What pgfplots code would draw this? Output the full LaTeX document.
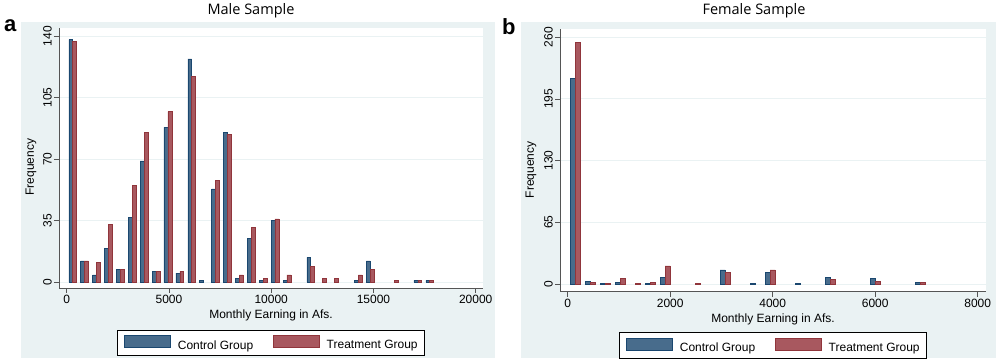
\documentclass[border=0pt]{standalone}
\usepackage{fontspec}
\setmainfont{Liberation Sans}
\newfontfamily\titlefont{Open Sans}
\usepackage{pgfplots}
\usepackage{pgfplotstable}
\pgfplotsset{compat=1.18}
\definecolor{sbg}{RGB}{234,242,243}
\definecolor{navyL}{RGB}{26,71,111}
\definecolor{navyF}{RGB}{72,108,140}
\definecolor{marL}{RGB}{144,53,59}
\definecolor{marF}{RGB}{168,88,95}
\definecolor{gridc}{RGB}{234,242,243}
\definecolor{axc}{RGB}{85,85,85}

\pgfplotstableread{
x y
291 138
873 12
1455 4
2037 19
2619 7
3201 37
3783 69
4365 6
4947 88
5529 5
6111 127
6693 1
7275 53
7857 85
8439 2
9021 25
9603 1
10185 35
10767 1
11931 14
14259 1
14841 12
17169 1
17751 1
}\maleC
\pgfplotstableread{
x y
291 137
873 12
1455 11
2037 33
2619 7
3201 55
3783 85
4365 6
4947 97
5529 6
6111 117
7275 58
7857 84
8439 4
9021 31
9603 2
10185 36
10767 4
11931 9
12513 2
13095 2
14259 4
14841 7
16005 1
17169 1
17751 1
}\maleT
\pgfplotstableread{
x y
146 217
439 3
731 1
1024 2
1610 1
1902 7
3073 15
3658 1
3951 12
4537 1
5122 7
6000 6
6878 2
}\femC
\pgfplotstableread{
x y
146 255
439 2
731 1
1024 6
1317 1
1610 2
1902 19
2488 1
3073 12
3951 15
5122 5
6000 3
6878 2
}\femT

\pgfplotsset{
  statastyle/.style={
    scale only axis, enlargelimits=false,
    axis background/.style={fill=white},
    axis x line*=bottom, axis y line*=left,
    axis line style={axc, line width=0.8pt},
    tick align=outside, major tick length=5pt,
    tick style={axc, line width=0.8pt},
    ymajorgrids, grid style={gridc, line width=1pt},
    /pgf/number format/assume math mode=true,
    /pgf/number format/1000 sep={},
    scaled ticks=false,
    ticklabel style={font=\fontsize{12}{14}\selectfont},
    yticklabel style={rotate=90, anchor=south, inner sep=2pt},
    xticklabel style={anchor=north, inner sep=2pt},
    label style={font=\fontsize{12}{14}\selectfont},
    xlabel style={at={(axis description cs:0.5,0)}, anchor=north, yshift=-22pt, inner sep=0pt},
    legend columns=2,
    legend style={at={(axis description cs:0.5,0)}, anchor=north, yshift=-42pt,
      draw=black, line width=0.6pt, fill=white, inner xsep=7pt, inner ysep=5pt,
      font=\fontsize{12}{14}\selectfont,
      /tikz/every even column/.append style={column sep=20pt},
      /tikz/every odd column/.append style={column sep=7pt},
      nodes={inner sep=0pt}},
  },
}

\begin{document}
\begin{tikzpicture}
\useasboundingbox (0,0) rectangle (1000pt,363pt);
\fill[white] (0,0) rectangle (1000pt,363pt);
\fill[sbg] (21pt,5pt) rectangle (495pt,341pt);
\fill[sbg] (521pt,5pt) rectangle (996pt,341pt);
\node[anchor=base west, inner sep=0pt, font=\bfseries\fontsize{22}{24}\selectfont] at (4pt,331pt) {a};
\node[anchor=base west, inner sep=0pt, font=\bfseries\fontsize{22}{24}\selectfont] at (502pt,328pt) {b};
\node[anchor=base, inner sep=0pt, font=\titlefont\fontsize{14.5}{17}\selectfont] at (251pt,348pt) {Male Sample};
\node[anchor=base, inner sep=0pt, font=\titlefont\fontsize{14.5}{17}\selectfont] at (754pt,348pt) {Female Sample};

\begin{axis}[statastyle,
  at={(59pt,75pt)}, anchor=south west, width=424pt, height=259.7pt,
  xmin=-377, xmax=20357, ymin=-3.4, ymax=144.4,
  xtick={0,5000,10000,15000,20000}, ytick={0,35,70,105,140},
  xlabel={Monthly Earning in Afs.}, ylabel={Frequency},
  ylabel style={at={(axis description cs:-0.066,0.465)}, anchor=center},
]
\addplot[ybar, bar width=190, bar shift=-95, draw=navyL, fill=navyF, line width=0.5pt,
  legend image code/.code={\draw[draw=navyL, fill=navyF, line width=0.5pt] (0pt,-2.2pt) rectangle (46pt,10pt);}]
  table[x=x, y=y] {\maleC};
\addplot[ybar, bar width=190, bar shift=95, draw=marL, fill=marF, line width=0.5pt,
  legend image code/.code={\draw[draw=marL, fill=marF, line width=0.5pt] (0pt,-2.2pt) rectangle (46pt,10pt);}]
  table[x=x, y=y] {\maleT};
\legend{Control Group, Treatment Group}
\end{axis}

\begin{axis}[statastyle,
  at={(560pt,71.3pt)}, anchor=south west, width=426pt, height=262.4pt,
  xmin=-150, xmax=8162, ymin=-8.1, ymax=268.4,
  xtick={0,2000,4000,6000,8000}, ytick={0,65,130,195,260},
  xlabel={Monthly Earning in Afs.}, ylabel={Frequency},
  ylabel style={at={(axis description cs:-0.068,0.465)}, anchor=center},
  legend style={yshift=1.4pt},
]
\addplot[ybar, bar width=97, bar shift=-48.5, draw=navyL, fill=navyF, line width=0.5pt,
  legend image code/.code={\draw[draw=navyL, fill=navyF, line width=0.5pt] (0pt,-2.2pt) rectangle (46pt,10pt);}]
  table[x=x, y=y] {\femC};
\addplot[ybar, bar width=97, bar shift=48.5, draw=marL, fill=marF, line width=0.5pt,
  legend image code/.code={\draw[draw=marL, fill=marF, line width=0.5pt] (0pt,-2.2pt) rectangle (46pt,10pt);}]
  table[x=x, y=y] {\femT};
\legend{Control Group, Treatment Group}
\end{axis}
\end{tikzpicture}
\end{document}
